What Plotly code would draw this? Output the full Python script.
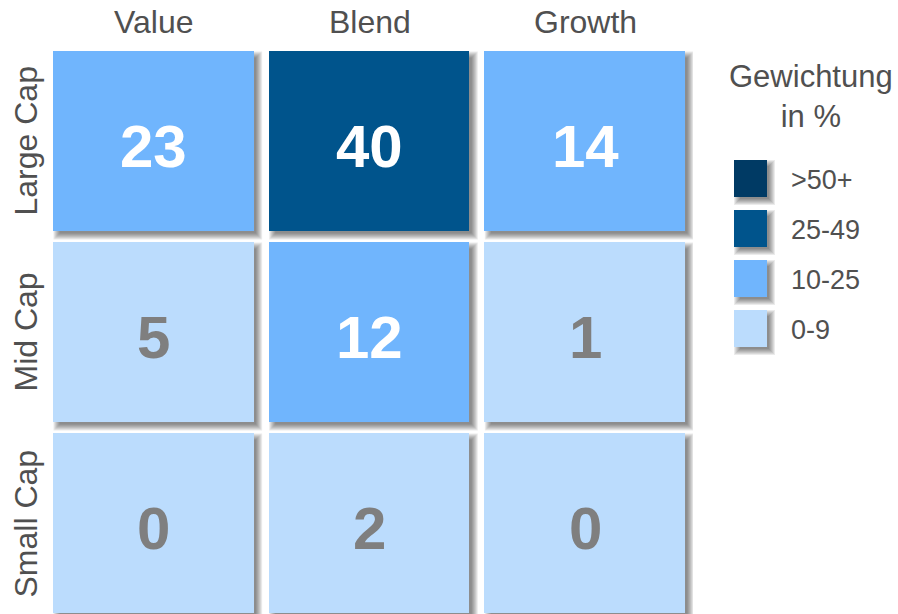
import numpy as np
import plotly.graph_objects as go

# data
styles = ["Value", "Blend", "Growth"]
caps = ["Large Cap", "Mid Cap", "Small Cap"]
weights = [
    [23, 40, 14],
    [5, 12, 1],
    [0, 2, 0],
]
bin_edges = [10, 25, 50]
bin_labels = ["0-9", "10-25", "25-49", ">50+"]
bin_colors = ["#BBDCFD", "#70B5FD", "#00548C", "#003A64"]
legend_title = "Gewichtung<br>in %"

# geometry (pixels)
W, H = 898, 614
L, R, T, B = 46, 205, 46, 0
PW, PH = W - L - R, H - T - B
XGAP, YGAP = 15, 11
ROW_PITCH = 191
FONT = "Liberation Sans, Arial, sans-serif"
GREY = "#505050"

z = np.array(weights)
bins = np.digitize(z, bin_edges)

cscale = []
n = len(bin_colors)
for i, c in enumerate(bin_colors):
    cscale.append([i / n, c])
    cscale.append([(i + 1) / n, c])


def px_x(px):
    return (px - L) / PW


def px_y(py):
    return 1 - (py - T) / PH


fig = go.Figure()
fig.add_trace(
    go.Heatmap(
        z=bins,
        x=list(range(len(styles))),
        y=list(range(len(caps))),
        colorscale=cscale,
        zmin=-0.5,
        zmax=n - 0.5,
        xgap=XGAP,
        ygap=YGAP,
        showscale=False,
        hoverinfo="skip",
    )
)

shapes = []
annotations = []
half_w = PW / len(styles) / 2 - XGAP / 2
half_h = ROW_PITCH / 2 - YGAP / 2
for r in range(len(caps)):
    for c in range(len(styles)):
        # soft drop shadow behind each cell
        for e in [-2, -1, 0, 1, 2, 3, 4]:
            shapes.append(
                dict(
                    type="rect",
                    layer="below",
                    xref="x",
                    yref="y",
                    xsizemode="pixel",
                    ysizemode="pixel",
                    xanchor=c,
                    yanchor=r,
                    x0=-half_w + 4 - e,
                    x1=half_w + 4 + e,
                    y0=half_h - 4 + e,
                    y1=-half_h - 4 - e,
                    line=dict(width=0),
                    fillcolor="rgba(0,0,0,0.08)",
                )
            )
        annotations.append(
            dict(x=c, y=r, xref="x", yref="y", text=str(weights[r][c]),
                 showarrow=False, xanchor="center", yanchor="middle", yshift=-5,
                 font=dict(family=FONT, size=60, weight="bold",
                           color="white" if bins[r][c] > 0 else "#7F7F7F"))
        )

for c, s in enumerate(styles):
    annotations.append(
        dict(x=c, y=1, xref="x", yref="paper", text=s, showarrow=False,
             xanchor="center", yanchor="middle", yshift=24,
             font=dict(family=FONT, size=32, color=GREY))
    )
for r, s in enumerate(caps):
    annotations.append(
        dict(x=0, y=r, xref="paper", yref="y", text=s, showarrow=False,
             textangle=-90, xanchor="center", yanchor="middle", xshift=-21,
             font=dict(family=FONT, size=32, color=GREY))
    )

# legend
annotations.append(
    dict(x=px_x(811), y=px_y(96), xref="paper", yref="paper", text=legend_title,
         xanchor="center", yanchor="middle", showarrow=False,
         font=dict(family=FONT, size=31, color=GREY))
)
for k, (lab, col) in enumerate(zip(reversed(bin_labels), reversed(bin_colors))):
    top = 160 + 50 * k
    for e in [-2, -1, 0, 1, 2, 3, 4]:
        shapes.append(
            dict(type="rect", xref="paper", yref="paper",
                 x0=px_x(734 + 4 - e), x1=px_x(767 + 4 + e),
                 y0=px_y(top + 4 - e), y1=px_y(top + 37 + 4 + e),
                 line=dict(width=0), fillcolor="rgba(0,0,0,0.08)")
        )
    shapes.append(
        dict(type="rect", xref="paper", yref="paper",
             x0=px_x(734), x1=px_x(767), y0=px_y(top), y1=px_y(top + 37),
             line=dict(width=0), fillcolor=col)
    )
    annotations.append(
        dict(x=px_x(789), y=px_y(top + 20), xref="paper", yref="paper", text=lab,
             showarrow=False, xanchor="left", yanchor="middle",
             font=dict(family=FONT, size=27, color=GREY))
    )

fig.update_layout(
    width=W,
    height=H,
    margin=dict(l=L, r=R, t=T, b=B),
    paper_bgcolor="white",
    plot_bgcolor="white",
    xaxis=dict(range=[-0.5, len(styles) - 0.5], visible=False, fixedrange=True),
    yaxis=dict(range=[PH / ROW_PITCH - 0.5, -0.5], visible=False, fixedrange=True),
    shapes=shapes,
    annotations=annotations,
    showlegend=False,
)

fig.write_html(
    "out.html",
    config={"displayModeBar": False},
    post_script="document.body.style.margin = '0';",
)
